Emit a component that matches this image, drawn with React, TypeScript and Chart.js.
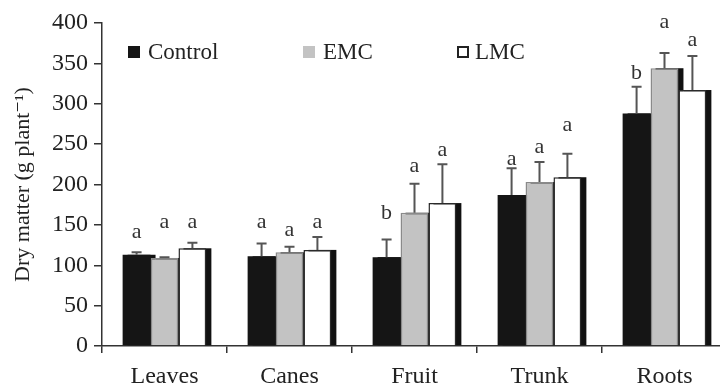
import React, { useEffect, useRef } from 'react';
import { Chart, registerables } from 'chart.js';
Chart.register(...registerables);

const categories = ['Leaves', 'Canes', 'Fruit', 'Trunk', 'Roots'];
const seriesNames = ['Control', 'EMC', 'LMC'];
const controlValues = [113, 111, 110, 187, 288];
const emcValues = [109, 116, 165, 203, 344];
const lmcValues = [121, 119, 177, 209, 317];
const controlErrors = [3, 16, 22, 33, 33];
const emcErrors = [1, 7, 36, 25, 19];
const lmcErrors = [7, 16, 48, 29, 42];
const controlLetters = ['a', 'a', 'b', 'a', 'b'];
const emcLetters = ['a', 'a', 'a', 'a', 'a'];
const lmcLetters = ['a', 'a', 'a', 'a', 'a'];
const controlLetterY = [141, 153, 164, 231, 338];
const emcLetterY = [153, 143, 223, 246, 401];
const lmcLetterY = [153, 153, 243, 273, 379];
const yTicks = [0, 50, 100, 150, 200, 250, 300, 350, 400];

const FONT = "'Liberation Serif', 'DejaVu Serif', serif";
const fills = ['#151515', '#c3c3c3', '#ffffff'];
const borders = ['#151515', '#8a8a8a', '#2a2a2a'];
const errorsAll = [controlErrors, emcErrors, lmcErrors];
const lettersAll = [controlLetters, emcLetters, lmcLetters];
const letterYAll = [controlLetterY, emcLetterY, lmcLetterY];

const overlayPlugin = {
  id: 'overlay',
  beforeDatasetsDraw(chart: any) {
    const ctx = chart.ctx;
    ctx.save();
    ctx.fillStyle = '#111';
    chart.data.datasets.forEach((_ds: any, i: number) => {
      const meta = chart.getDatasetMeta(i);
      meta.data.forEach((bar: any) => {
        const { x, y, base, width } = bar.getProps(['x', 'y', 'base', 'width'], true);
        ctx.fillRect(x - width / 2 + 5, y, width, base - y);
      });
    });
    ctx.restore();
  },
  afterDatasetsDraw(chart: any) {
    const ctx = chart.ctx;
    const ys = chart.scales.y;
    ctx.save();
    chart.data.datasets.forEach((ds: any, i: number) => {
      const meta = chart.getDatasetMeta(i);
      meta.data.forEach((bar: any, j: number) => {
        const { x, y } = bar.getProps(['x', 'y'], true);
        const top = ys.getPixelForValue(ds.data[j] + errorsAll[i][j]);
        ctx.strokeStyle = '#555';
        ctx.lineWidth = 2;
        ctx.beginPath();
        ctx.moveTo(x, y);
        ctx.lineTo(x, top);
        ctx.moveTo(x - 5, top);
        ctx.lineTo(x + 5, top);
        ctx.stroke();
        ctx.fillStyle = '#333';
        ctx.font = `22px ${FONT}`;
        ctx.textAlign = 'center';
        ctx.textBaseline = 'middle';
        ctx.fillText(lettersAll[i][j], x, ys.getPixelForValue(letterYAll[i][j]));
      });
    });
    ctx.restore();
  },
  afterDraw(chart: any) {
    const ctx = chart.ctx;
    const pos = [
      [128, 148],
      [303, 323],
      [457, 475],
    ];
    ctx.save();
    ctx.font = `23px ${FONT}`;
    ctx.textBaseline = 'middle';
    ctx.textAlign = 'left';
    seriesNames.forEach((name, i) => {
      const [sx, tx] = pos[i];
      ctx.fillStyle = fills[i];
      ctx.fillRect(sx, 46, 12, 12);
      if (i === 2) {
        ctx.strokeStyle = '#222';
        ctx.lineWidth = 2;
        ctx.strokeRect(sx + 1, 47, 10, 10);
      }
      ctx.fillStyle = '#222';
      ctx.fillText(name, tx, 53);
    });
    ctx.restore();
  },
};

export default function App() {
  const ref = useRef<HTMLCanvasElement>(null);
  useEffect(() => {
    document.body.style.margin = '0';
    document.body.style.overflow = 'hidden';
    const canvas = ref.current!;
    const chart = new Chart(canvas, {
      type: 'bar',
      data: {
        labels: categories,
        datasets: [controlValues, emcValues, lmcValues].map((vals, i) => ({
          label: seriesNames[i],
          data: vals,
          backgroundColor: fills[i],
          borderColor: borders[i],
          borderWidth: i === 0 ? 0 : 1.5,
          categoryPercentage: 0.67,
          barPercentage: 1,
        })),
      },
      options: {
        responsive: false,
        animation: false,
        devicePixelRatio: 1,
        layout: { padding: { top: 23, right: 1, left: 0, bottom: 0 } },
        plugins: {
          legend: { display: false },
          tooltip: { enabled: false },
          title: { display: false },
        },
        scales: {
          x: {
            grid: {
              display: true,
              drawOnChartArea: false,
              drawTicks: true,
              tickLength: 7,
              color: '#333',
              lineWidth: 1.5,
              offset: true,
            },
            border: { display: true, color: '#333', width: 1.5 },
            ticks: { color: '#222', font: { family: FONT, size: 24 }, padding: 9 },
            afterFit(scale: any) {
              scale.height = 39;
            },
          },
          y: {
            min: 0,
            max: 400,
            afterBuildTicks(scale: any) {
              scale.ticks = yTicks.map((v) => ({ value: v }));
            },
            grid: {
              display: true,
              drawOnChartArea: false,
              drawTicks: true,
              tickLength: 8,
              color: '#333',
              lineWidth: 1.5,
            },
            border: { display: true, color: '#333', width: 1.5 },
            ticks: { color: '#222', font: { family: FONT, size: 24 }, padding: 6 },
            title: {
              display: true,
              text: 'Dry matter (g plant\u207B\u00B9)',
              color: '#222',
              font: { family: FONT, size: 22 },
              padding: { top: 10, bottom: 0 },
            },
            afterFit(scale: any) {
              scale.width = 102;
            },
          },
        },
      },
      plugins: [overlayPlugin],
    });
    return () => chart.destroy();
  }, []);
  return (
    <div style={{ width: 728, height: 385 }}>
      <canvas ref={ref} width={728} height={385} style={{ display: 'block' }} />
    </div>
  );
}
